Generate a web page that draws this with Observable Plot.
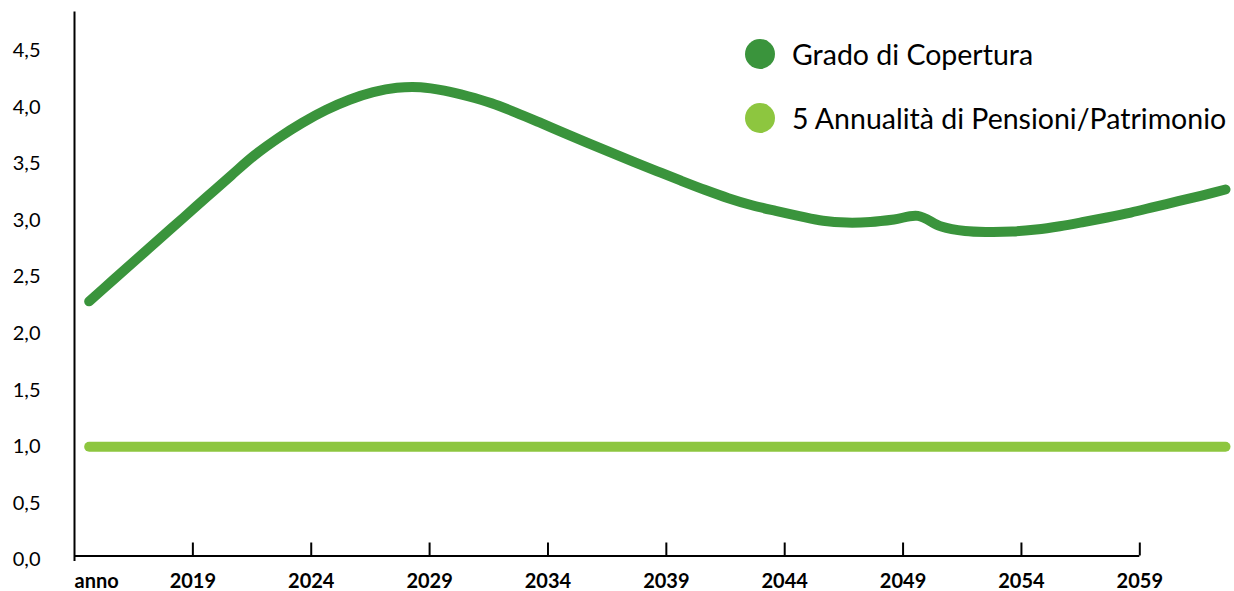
<!DOCTYPE html>
<html>
<head>
<meta charset="utf-8">
<script src="https://cdn.jsdelivr.net/npm/d3@7"></script>
<script src="https://cdn.jsdelivr.net/npm/@observablehq/plot@0.6"></script>
<style>
  body { margin: 0; background: #fff; }
  #wrap { position: relative; width: 1234px; height: 591px; }
  .legend { position: absolute; left: 745px; top: 39px; font-family: Lato, sans-serif; font-size: 28.5px; color: #000; }
  .item { display: flex; align-items: center; height: 30px; margin-bottom: 34px; white-space: nowrap; }
  .sw { width: 30px; height: 30px; border-radius: 50%; margin-right: 17px; flex: none; }
</style>
</head>
<body>
<div id="wrap"></div>
<script>
// ---- data ----
const years = [2015,2016,2017,2018,2019,2020,2021,2022,2023,2024,2025,2026,2027,2028,2029,2030,2031,2032,2033,2034,2035,2036,2037,2038,2039,2040,2041,2042,2043,2044,2045,2046,2047,2048,2049,2050,2051,2052,2053,2054,2055,2056,2057,2058,2059,2060,2061,2062,2063];
const gradoCopertura = [2.285,2.471,2.656,2.842,3.027,3.213,3.398,3.578,3.730,3.862,3.975,4.066,4.133,4.172,4.177,4.147,4.097,4.035,3.955,3.868,3.778,3.690,3.603,3.518,3.434,3.351,3.271,3.197,3.134,3.084,3.038,2.997,2.981,2.986,3.008,3.040,2.946,2.906,2.898,2.902,2.920,2.949,2.986,3.026,3.070,3.120,3.170,3.220,3.273];
const annualitaPensioni = [1,1,1,1,1,1,1,1,1,1,1,1,1,1,1,1,1,1,1,1,1,1,1,1,1,1,1,1,1,1,1,1,1,1,1,1,1,1,1,1,1,1,1,1,1,1,1,1,1];
const seriesNames = ["Grado di Copertura", "5 Annualità di Pensioni/Patrimonio"];
const seriesColors = ["#3a943c", "#8dc63f"];
const xTicks = [2019,2024,2029,2034,2039,2044,2049,2054,2059];
const yTicks = [0,0.5,1,1.5,2,2.5,3,3.5,4,4.5];
const xStart = 2014;
const xEnd = 2063;
const yMax = 4.837;
const axisTitle = "anno";

const rows = years.map((yr, i) => ({year: yr, grado: gradoCopertura[i], annualita: annualitaPensioni[i]}));

const chart = Plot.plot({
  width: 1234,
  height: 591,
  marginLeft: 74,
  marginRight: 0,
  marginTop: 12,
  marginBottom: 31.5,
  style: { fontFamily: "Lato, sans-serif", background: "white", color: "black" },
  x: { domain: [xStart, xEnd], axis: null },
  y: { domain: [0, yMax], axis: null },
  marks: [
    Plot.axisY(yTicks, { anchor: "left", tickSize: 0, tickPadding: 34, fontSize: 20, label: null,
      tickFormat: d => d.toFixed(1).replace(".", ",") }),
    Plot.frame({ anchor: "left", stroke: "black", strokeWidth: 2 }),
    Plot.ruleY([0], { x1: xStart, x2: xTicks[xTicks.length - 1], stroke: "black", strokeWidth: 2, dy: -4 }),
    Plot.axisX(xTicks, { anchor: "bottom", tickSize: -13, strokeWidth: 2, dy: -4, tickFormat: () => "", label: null }),
    Plot.axisX(xTicks, { anchor: "bottom", tickSize: 0, tickPadding: 14, fontSize: 20, fontWeight: "bold", label: null, tickFormat: d => String(d) }),
    Plot.text([axisTitle], { x: () => xStart, y: () => 0, text: d => d, textAnchor: "start", lineAnchor: "top", dy: 14, fontSize: 20, fontWeight: "bold", fill: "black" }),
    Plot.line(rows, { x: "year", y: "annualita", stroke: seriesColors[1], strokeWidth: 10, strokeLinecap: "round", dx: -9 }),
    Plot.line(rows, { x: "year", y: "grado", stroke: seriesColors[0], strokeWidth: 10, strokeLinecap: "round", strokeLinejoin: "round", curve: "catmull-rom", dx: -9 })
  ]
});

const wrap = document.getElementById("wrap");
wrap.appendChild(chart);
const legend = document.createElement("div");
legend.className = "legend";
seriesNames.forEach((name, i) => {
  const item = document.createElement("div");
  item.className = "item";
  const sw = document.createElement("span");
  sw.className = "sw";
  sw.style.background = seriesColors[i];
  const label = document.createElement("span");
  label.textContent = name;
  item.appendChild(sw);
  item.appendChild(label);
  legend.appendChild(item);
});
wrap.appendChild(legend);
</script>
</body>
</html>
